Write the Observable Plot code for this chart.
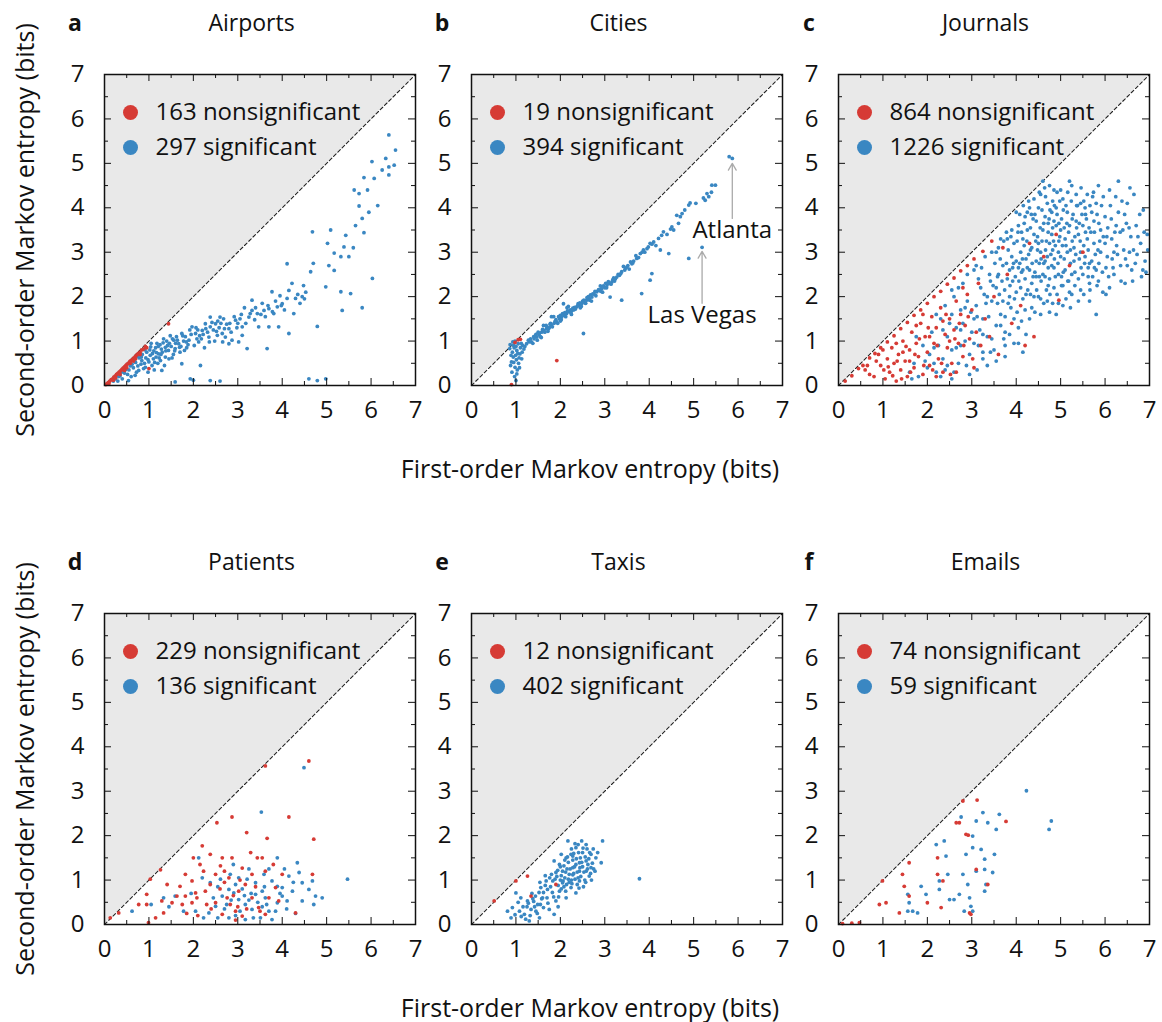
<!DOCTYPE html>
<html>
<head>
<meta charset="utf-8">
<script src="https://cdn.jsdelivr.net/npm/d3@7"></script>
<script src="https://cdn.jsdelivr.net/npm/@observablehq/plot@0.6"></script>
<style>
  html, body { margin: 0; padding: 0; background: #fff; }
  #root { position: relative; width: 1162px; height: 1022px; overflow: hidden; background: #fff;
    font-family: 'Open Sans', 'Liberation Sans', Arial, sans-serif; color: #111; }
  .abs { position: absolute; line-height: 1; }
  .ttl { font-size: 23px; transform: translate(-50%, -50%); white-space: nowrap; }
  .let { font-size: 23px; font-weight: bold; transform: translate(-50%, -50%); }
  .xt { font-size: 25px; transform: translate(-50%, -50%); white-space: nowrap; }
  .yt { font-size: 25px; transform: translate(-50%, -50%) rotate(-90deg); white-space: nowrap; }
</style>
</head>
<body>
<div id="root"></div>
<script>
// ---------- data ----------
const panelLetters = ["a", "b", "c", "d", "e", "f"];
const panelTitles = ["Airports", "Cities", "Journals", "Patients", "Taxis", "Emails"];
const nonsigCounts = [163, 19, 864, 229, 12, 74];
const sigCounts = [297, 394, 1226, 136, 402, 59];
const tickValues = [0, 1, 2, 3, 4, 5, 6, 7];
const minorTickValues = [0.5, 1.5, 2.5, 3.5, 4.5, 5.5, 6.5];
const cityAnnotations = [
  {label: "Atlanta", x: 5.87, y: 5.11, from: 3.76, to: 5.0, textY: 3.49},
  {label: "Las Vegas", x: 5.19, y: 3.11, from: 1.85, to: 3.02, textY: 1.58}
];

const airportsSig = [
[6.40,5.64],[6.33,5.11],[6.40,4.92],[6.52,4.96],[6.40,4.74],[6.02,5.04],[5.84,4.68],[5.92,4.40],[6.07,4.66],[5.62,4.40],[5.73,4.32],[5.73,4.04],[5.80,3.76],[5.65,3.60],[5.84,3.44],[5.43,3.38],[5.39,3.12],[5.09,3.50],[5.02,3.20],[5.17,2.98],[5.32,2.90],[5.50,2.90],[5.17,2.59],[4.68,3.46],[4.11,2.74],[4.64,2.56],[6.03,2.41],[4.98,2.22],[5.32,2.11],[5.54,2.07],[5.35,1.69],[5.80,1.75],[4.79,1.33],
[4.53,2.10],[4.45,2.00],[4.30,1.96],[4.15,2.14],[4.00,1.84],[3.89,1.77],[3.81,1.62],[3.70,1.73],[3.59,1.69],[3.44,1.62],[3.32,1.69],[3.25,1.54],[3.32,1.92],[3.77,2.11],[4.11,1.96],[4.26,1.62],[3.92,1.32],[4.15,1.17],[3.70,1.32],[3.47,1.32],[3.21,0.83],[3.66,0.83],[3.10,1.32],[2.95,1.47],[2.80,1.28],[2.68,1.50],[2.60,1.54],[2.50,1.39],[2.38,1.32],[2.27,1.39],[2.20,1.24],[2.05,1.17],[1.97,1.32],[1.90,1.02],[1.74,1.17],[1.67,0.94],[1.56,1.02],[1.44,0.79],[1.37,0.64],[1.26,0.56],[1.22,0.71],[1.10,0.60],[1.07,0.45],[1.00,0.53],[0.92,0.41],[0.84,0.56],[0.77,0.34],[0.69,0.23],[1.37,0.86],[1.59,0.83],[1.80,0.79],[2.12,0.98],[2.35,1.09],[2.54,1.13],[2.72,1.09],[2.87,1.02],[3.02,0.98],[2.38,1.54],[2.65,1.17],[2.80,0.94],[3.10,1.13],[2.16,0.45],[1.74,0.49],[1.29,0.34],[1.93,0.15],[1.59,0.08],[2.38,0.11],[2.00,0.12],[4.60,0.15],[4.79,0.11],[4.98,0.15],[0.54,0.11],
[0.55,0.35],[0.62,0.48],[0.70,0.52],[0.78,0.62],[0.85,0.70],[0.90,0.50],[0.95,0.75],[1.02,0.80],[1.08,0.72],[1.15,0.85],[1.20,0.50],[1.25,0.92],[1.30,0.75],[1.35,0.45],[1.40,1.00],[1.45,0.60],[1.50,0.88],[1.55,0.70],[1.62,1.10],[1.70,0.75],[1.78,1.00],[1.85,0.85],[1.95,1.15],[2.02,0.90],[2.10,1.25],[2.18,1.05],[2.25,0.85],[2.32,1.20],[2.42,1.42],[2.48,1.00],[2.58,1.30],[2.66,0.98],[2.75,1.38],[2.85,1.20],[2.92,1.55],[3.00,1.40],[3.08,1.60],[3.15,1.75],[3.38,1.48],[3.55,1.85],[3.62,1.55],[3.85,1.90],[3.95,2.02],[4.05,1.70],[4.22,2.30],[4.40,1.85],[4.48,2.25],[0.45,0.28],[0.40,0.15],[0.60,0.20],[0.30,0.10],[0.35,0.22],[0.98,0.30],[1.12,0.35],[1.18,0.95],[0.88,0.38],[0.75,0.44],[1.05,0.95],[1.48,1.12],[1.33,1.05],[2.60,0.10],[4.70,2.75],[5.05,2.70],[5.60,3.10],[6.15,4.05],[6.55,5.30],[6.25,4.85],[5.95,3.90],
[0.65,0.40],[0.72,0.30],[0.82,0.48],[0.93,0.62],[1.03,0.68],[1.13,0.52],[1.23,0.62],[1.28,0.82],[1.42,0.90],[1.52,0.62],[1.60,0.95],[1.72,0.88],[1.82,1.10],[1.88,0.92],[2.08,1.05],[2.22,1.15],[2.45,1.25],[2.55,1.45],[1.17,0.74],[0.98,0.58],
[0.20,0.10],[0.25,0.15],[0.32,0.20],[0.38,0.30],[0.48,0.36],[0.52,0.25],[0.58,0.44],[0.68,0.58],[0.74,0.66],[0.83,0.64],[0.91,0.80],[1.04,0.87],[1.11,0.78],[1.16,0.64],[1.21,0.88],[1.27,0.70],[1.32,0.96],[1.38,0.78],[1.46,0.95],[1.53,1.05],[1.58,0.78],[1.64,1.02],[1.69,0.86],[1.76,1.12],[1.84,0.98],[1.92,1.25],[2.06,1.30],[2.14,1.12],[2.28,1.28],[2.36,0.98],[2.52,1.22],[2.62,1.40],[2.70,1.28],[2.82,1.40],[2.98,1.30],[3.05,1.50],[3.18,1.40],[3.28,1.62],[3.40,1.75],[3.52,1.60],[3.68,1.80],[3.78,1.66],[3.98,1.80],[4.35,2.05],[4.50,1.95]
];
const airportsNon = [
[0.03,0.02],[0.06,0.05],[0.09,0.07],[0.12,0.10],[0.15,0.13],[0.18,0.15],[0.21,0.19],[0.24,0.21],[0.27,0.25],[0.30,0.27],[0.33,0.30],[0.36,0.33],[0.39,0.36],[0.42,0.39],[0.45,0.42],[0.48,0.45],[0.51,0.48],[0.54,0.50],[0.57,0.54],[0.60,0.56],[0.63,0.59],[0.66,0.62],[0.70,0.66],[0.73,0.69],[0.76,0.72],[0.80,0.75],[0.84,0.80],[0.88,0.82],[0.92,0.88],[0.20,0.12],[0.35,0.25],[0.50,0.40],[0.65,0.55],[0.10,0.04],[0.25,0.17],[0.45,0.34],[0.58,0.50],[0.70,0.60],[0.80,0.70],[0.95,0.85],[1.44,1.39],[1.00,0.38]
];

const citiesSig = [
[5.87,5.11],[5.80,5.15],[5.41,4.51],[5.49,4.51],[5.30,4.32],[5.34,4.25],[5.26,4.17],[5.22,4.22],[4.92,4.11],[4.89,4.06],[4.74,3.87],[4.62,3.83],[4.66,3.65],[4.51,3.57],[4.32,3.46],[4.21,3.31],[4.10,3.23],[4.02,3.20],[3.95,3.08],[3.87,3.05],[3.80,2.97],[3.72,2.86],[3.61,2.74],[3.50,2.67],[3.38,2.56],[3.27,2.44],[3.16,2.33],[3.05,2.26],[2.93,2.18],[2.82,2.11],[2.71,1.99],[2.59,1.92],[2.48,1.84],[2.37,1.77],[2.26,1.69],[2.14,1.62],[2.03,1.54],[1.92,1.43],[1.80,1.35],[1.69,1.28],[1.58,1.20],[1.47,1.09],[1.35,0.98],[1.24,0.94],
[4.25,3.05],[4.44,2.97],[4.89,2.86],[5.19,3.11],[3.83,2.07],[4.02,2.37],[4.06,2.52],[3.38,1.92],[3.12,1.99],[2.52,1.17],[2.07,1.84],[2.15,1.75],[1.80,1.55],
[3.65,2.80],[3.55,2.62],[3.45,2.60],[3.33,2.48],[3.20,2.42],[3.10,2.30],[3.00,2.20],[2.88,2.14],[2.76,2.06],[2.65,1.96],[2.55,1.86],[2.42,1.80],[2.30,1.70],[2.20,1.66],[2.08,1.58],[1.98,1.50],[1.86,1.40],[1.75,1.30],[1.63,1.24],[1.52,1.14],[1.41,1.05],[1.30,0.98],[1.20,0.88],[3.58,2.78],[3.42,2.68],[3.30,2.50],[3.18,2.38],[3.02,2.30],[2.90,2.24],[2.78,2.12],[2.68,2.04],[2.60,1.98],[2.50,1.90],[2.40,1.84],[2.32,1.76],[2.22,1.70],[2.10,1.64],[2.00,1.58],[1.90,1.48],[1.78,1.40],[1.70,1.32],[1.60,1.26],[1.50,1.20],[1.40,1.10],[1.28,1.02],[3.70,2.92],[3.90,3.00],[4.15,3.15],[4.40,3.40],[4.55,3.50],[4.80,3.95],[5.05,4.10],[5.40,4.35],[2.45,1.75],[2.70,1.90],[2.95,2.10],[3.22,2.35],[2.25,1.60],[2.00,1.45],[1.72,1.22],[1.55,1.10],[1.45,1.15],[1.62,1.35],[1.85,1.55],[2.18,1.78],
[1.33,1.05],[1.38,0.95],[1.44,1.12],[1.48,1.02],[1.53,1.18],[1.57,1.08],[1.65,1.20],[1.68,1.35],[1.73,1.27],[1.77,1.38],[1.82,1.32],[1.88,1.44],[1.94,1.40],[1.96,1.55],[2.02,1.48],[2.05,1.62],[2.12,1.55],[2.16,1.68],[2.24,1.64],[2.28,1.74],[2.34,1.72],[2.39,1.80],[2.44,1.86],[2.47,1.78],[2.53,1.92],[2.57,1.85],[2.63,2.00],[2.66,1.92],[2.73,2.06],[2.80,2.02],[2.86,2.16],[2.91,2.12],[2.97,2.24],[3.04,2.20],[3.08,2.34],[3.14,2.28],[3.24,2.40],[3.36,2.52],[3.47,2.64],[3.52,2.70],[3.63,2.76],[3.76,2.88],[3.84,3.00],[3.98,3.12],[4.06,3.18],[4.28,3.38],[4.48,3.52],[4.70,3.80],
[1.02,0.79],[0.94,0.64],[0.98,0.41],[1.02,0.26],[0.90,0.53],[1.09,0.71],[1.05,0.94],[0.86,0.83],[1.13,0.60],[1.00,0.11],[1.03,0.35],[0.95,0.90],[0.92,0.75],[0.99,0.68],[1.06,0.50],[0.88,0.45],[0.97,0.20],[1.10,0.85],[1.15,0.90],[0.93,0.98],[1.01,0.58],[0.96,0.85],[1.08,0.40],[0.91,0.30],[1.04,0.72],[0.98,1.00],[1.18,0.82],[1.12,0.95],[0.89,0.68],[1.07,0.62],[0.95,0.52],[1.00,0.88],[0.87,0.92],[1.14,0.75]
];
const citiesNon = [[1.05,1.03],[1.92,0.56],[0.90,0.02],[0.98,0.97],[1.10,1.04]];

const journalsSig = [
[1.60,0.30],[1.70,0.50],[1.80,0.20],[1.90,0.90],[2.00,0.40],[1.75,1.10],[2.05,0.70],[1.65,0.15],
[2.10,1.20],[2.20,0.30],[2.25,0.90],[2.30,1.50],[2.35,0.60],[2.40,1.80],[2.45,1.10],[2.15,0.50],[2.30,0.20],[2.40,0.35],[2.50,1.40],[2.20,1.60],
[2.55,0.80],[2.60,2.00],[2.65,1.30],[2.70,0.50],[2.75,1.70],[2.80,2.30],[2.85,1.00],[2.90,1.90],[2.95,0.70],[2.60,0.30],[2.70,2.20],[2.80,1.40],[2.90,2.50],[3.00,1.20],[2.55,1.60],[2.75,0.90],
[3.05,2.60],[3.10,1.80],[3.15,0.90],[3.20,2.20],[3.25,1.50],[3.30,2.90],[3.35,1.10],[3.40,2.50],[3.45,1.90],[3.50,0.80],[3.05,1.50],[3.15,2.40],[3.25,0.60],[3.35,2.00],[3.45,3.00],[3.10,2.70],
[3.55,2.20],[3.60,3.10],[3.65,1.60],[3.70,2.70],[3.75,1.20],[3.80,3.30],[3.85,2.00],[3.90,2.90],[3.95,1.50],[3.55,3.00],[3.60,2.50],[3.70,1.90],[3.80,2.40],[3.90,3.50],[3.65,3.30],[3.75,0.90],[3.85,2.60],[3.95,3.20],
[4.00,2.80],[4.05,3.60],[4.10,2.20],[4.15,3.30],[4.20,1.70],[4.25,3.90],[4.30,2.60],[4.35,3.10],[4.40,2.00],[4.45,3.70],[4.00,3.90],[4.10,3.00],[4.20,2.40],[4.30,4.00],[4.40,3.40],[4.05,1.30],[4.15,2.60],[4.25,3.50],[4.35,2.30],[4.45,2.80],[4.00,2.10],[4.20,3.80],[4.30,1.50],[4.40,4.20],
[4.50,3.20],[4.55,4.30],[4.60,2.50],[4.65,3.80],[4.70,2.90],[4.75,4.50],[4.80,3.40],[4.85,2.20],[4.90,4.00],[4.95,3.00],[4.50,2.00],[4.60,3.50],[4.70,4.10],[4.80,2.70],[4.90,3.60],[4.55,1.60],[4.65,2.80],[4.75,3.20],[4.85,4.40],[4.95,2.50],[4.50,4.00],[4.60,4.60],[4.70,1.90],[4.80,3.90],[4.90,1.60],[4.55,3.00],[4.75,2.40],[4.85,3.70],
[5.00,3.50],[5.05,4.20],[5.10,2.60],[5.15,3.90],[5.20,2.10],[5.25,4.50],[5.30,3.10],[5.35,3.70],[5.40,2.40],[5.45,4.10],[5.00,2.90],[5.10,3.30],[5.20,4.60],[5.30,2.80],[5.40,3.40],[5.05,1.80],[5.15,3.00],[5.25,2.50],[5.35,4.30],[5.45,3.00],[5.00,4.40],[5.20,3.60],[5.40,1.90],
[5.50,3.60],[5.55,2.90],[5.60,4.30],[5.65,2.30],[5.70,3.90],[5.75,3.20],[5.80,2.60],[5.85,4.50],[5.90,3.50],[5.95,2.10],[5.50,2.50],[5.60,3.30],[5.70,2.80],[5.80,4.10],[5.90,3.00],[5.55,4.00],[5.65,1.90],[5.75,3.70],[5.80,1.60],
[6.00,3.80],[6.05,2.90],[6.10,4.40],[6.15,3.30],[6.20,2.50],[6.30,3.90],[6.35,2.70],[6.40,3.50],[6.50,4.10],[6.55,3.00],[6.60,2.60],[6.70,3.60],[6.80,3.20],[6.90,2.80],[6.95,3.40],[6.10,2.20],[6.25,3.60],[6.45,2.30],[6.65,4.30],[6.85,2.60],[6.00,3.20],[6.30,4.60],[6.50,2.70],[6.20,3.00],
[4.12,3.45],[4.28,2.95],[4.38,3.75],[4.48,3.35],[4.58,3.95],[4.62,2.75],[4.68,3.25],[4.72,3.65],[4.78,2.95],[4.82,4.15],[4.88,3.15],[4.92,3.85],[4.98,3.35],[5.02,3.75],[5.08,2.85],[5.12,4.05],[5.18,3.45],[5.22,2.75],[5.28,3.85],[5.32,3.35],[5.38,4.05],[5.42,2.85],[5.48,3.85],[5.52,3.15],[5.58,3.75],[5.62,2.65],[5.68,3.45],[5.72,4.25],[5.78,2.95],[5.88,3.25],
[3.98,2.45],[4.08,2.75],[4.18,3.15],[4.22,2.05],[4.32,3.55],[4.42,2.55],[4.52,2.75],[4.58,3.25],[4.68,2.15],[4.72,3.45],[4.82,3.05],[4.88,2.45],[4.98,4.15],[5.08,3.55],[5.18,2.35],[3.68,2.35],[3.78,2.75],[3.88,1.75],[3.48,2.25],[3.38,1.55],[3.28,2.05],[3.18,1.25],[3.58,1.85],[2.98,1.65],[2.88,0.45],[3.12,0.35],[3.42,0.75],[3.72,1.05],
[3.82,3.05],[3.92,2.35],[4.02,3.25],[4.08,3.85],[4.12,2.55],[4.18,3.65],[4.22,2.85],[4.28,4.15],[4.32,3.05],[4.38,2.45],[4.42,3.85],[4.48,3.05],[4.52,4.35],[4.56,2.35],[4.62,3.65],[4.66,4.25],[4.72,2.65],[4.76,3.95],[4.82,3.55],[4.86,2.85],[4.92,4.35],[4.96,3.25],[5.02,2.45],[5.06,3.95],[5.12,3.15],[5.16,4.35],[5.22,3.05],[5.26,3.75],[5.32,2.55],[5.36,4.05],[5.42,3.65],[5.46,2.65],[5.52,4.15],[5.56,3.45],[5.62,3.05],[5.66,4.05],[5.72,2.45],[5.76,3.45],[5.82,3.85],[5.86,2.75],[5.92,4.05],[5.96,3.35],[6.02,2.65],[6.06,3.55],[6.12,4.05],[6.16,2.85],[6.22,3.45],[6.28,2.95],[6.38,4.15],[6.42,3.05],[6.48,3.65],[6.58,3.35],[6.62,2.35],[6.72,2.95],[6.78,3.85],[6.88,3.45],[6.92,2.55],
[3.12,1.55],[3.22,2.65],[3.32,1.85],[3.42,2.35],[3.52,2.75],[3.62,2.05],[3.72,3.25],[3.82,1.85],[3.92,2.65],[4.02,1.65],[4.12,1.45],[4.22,1.15],[4.32,2.05],[4.42,1.65],[4.52,2.45],[4.62,1.85],[4.72,2.25],[4.82,1.85],[4.92,2.05],[5.02,2.25],[5.12,1.95],[5.22,1.75],[5.32,2.25],[5.52,2.05],[5.62,2.45],[5.82,2.25],[6.02,2.05],[3.05,0.95],[3.25,1.15],[2.85,1.75],[2.65,0.85],[2.45,0.45],[2.35,1.25],[2.15,0.85],[1.95,0.55],[2.55,2.15],[2.75,1.25],[3.35,0.45],[3.55,1.35],[3.75,1.55],[3.95,0.95],[4.15,0.75],
[3.58,2.45],[3.64,2.85],[3.74,2.15],[3.78,3.45],[3.86,2.25],[3.88,3.35],[3.94,2.75],[3.96,1.95],[4.04,3.45],[4.06,2.35],[4.14,2.85],[4.16,4.05],[4.24,3.25],[4.26,2.15],[4.34,3.85],[4.36,2.75],[4.44,3.25],[4.46,2.15],[4.54,3.55],[4.56,2.85],[4.64,4.45],[4.66,3.05],[4.74,3.75],[4.76,2.05],[4.84,3.25],[4.86,4.05],[4.94,2.75],[4.96,3.65],[5.04,3.15],[5.06,2.55],[5.14,3.65],[5.16,2.35],[5.24,4.15],[5.26,3.25],[5.34,2.95],[5.36,3.55],[5.44,3.25],[5.46,4.45],[5.54,2.75],[5.56,3.85],[5.64,3.55],[5.66,2.15],[5.74,4.35],[5.76,2.65],[5.84,3.05],[5.86,3.65],[5.94,2.55],[5.96,4.25],[6.04,3.35],[6.08,2.45],[6.14,3.75],[6.18,2.65],[6.24,4.25],[6.26,3.15],[6.34,3.45],[6.36,2.35],[6.44,3.85],[6.46,2.85],[6.54,3.55],[6.56,4.45],[6.64,3.05],[6.68,2.75],[6.74,3.35],[6.82,2.45],[6.86,3.95],[6.96,3.05],
[4.05,2.65],[4.25,2.65],[4.45,2.45],[4.65,2.45],[4.85,2.65],[5.05,2.25],[5.25,2.05],[5.45,2.15],[5.65,2.75],[5.85,2.35],[4.15,1.95],[4.35,1.75],[4.55,1.95],[4.75,1.65],[4.95,1.85],[3.65,1.35],[3.85,1.15],[4.05,0.95],[3.45,1.05],[3.25,0.75],[2.95,0.25],[2.55,0.15],[3.55,0.55],[3.75,0.65]
];
const journalsNon = [
[0.15,0.10],[0.30,0.22],[0.45,0.38],[0.55,0.45],[0.70,0.62],[0.82,0.72],[0.95,0.85],[1.10,0.98],[1.25,1.12],[1.40,1.28],[1.55,1.42],[1.70,1.58],[1.85,1.70],[2.00,1.85],[2.15,2.00],[2.30,2.12],[2.45,2.28],[2.60,2.42],[2.75,2.58],[2.90,2.70],[3.05,2.85],[3.25,3.02],[3.45,3.25],[0.60,0.35],[0.90,0.70],
[0.80,0.20],[0.95,0.45],[1.05,0.15],[1.10,0.60],[1.15,0.30],[1.20,0.85],[1.25,0.50],[1.30,0.10],[1.35,0.70],[1.40,0.35],[1.45,1.00],[1.50,0.55],[1.55,0.20],[1.60,0.80],[1.65,1.20],[1.70,0.40],[1.75,0.95],[1.80,0.65],[1.85,1.40],[1.90,0.25],[1.95,1.10],[2.00,0.75],[2.05,0.45],[2.10,1.55],[2.15,0.95],[2.20,1.30],[2.25,0.60],[2.30,1.75],[2.35,0.30],[2.40,1.15],[2.45,0.85],[2.50,1.50],[2.55,0.50],[2.60,1.25],[2.65,1.90],[2.70,0.95],[2.75,1.60],[2.80,0.65],[2.85,1.35],[2.90,2.05],[2.95,1.05],[3.00,1.70],[3.05,0.40],[3.10,1.20],[3.15,2.30],[3.20,0.90],[3.30,1.50],[3.40,1.10],[3.50,2.00],[3.60,0.70],[1.00,0.80],[1.30,0.95],[1.60,0.55],[1.90,1.60],[2.20,0.20],[2.50,1.00],[2.80,2.20],[1.45,0.75],[1.75,1.35],[2.05,1.10],[2.35,1.45],[2.65,0.30],
[3.80,2.50],[4.10,1.80],[4.30,3.20],[4.62,2.90],[4.90,3.40],[5.20,2.70],[3.90,1.40],[4.40,1.10],[5.50,3.00],[3.70,3.10],[4.96,1.92],[4.20,0.90],
[1.12,0.42],[1.22,0.22],[1.32,0.55],[1.42,0.15],[1.52,0.88],[1.62,0.30],[1.72,0.70],[1.82,1.05],[1.92,0.45],[2.02,1.30],[2.12,0.35],[2.22,0.90],[2.32,0.50],[2.42,1.60],[2.52,0.25],[2.62,1.05],[2.72,1.40],[2.82,0.90],[2.92,1.55],[3.02,0.60],[0.70,0.25],[0.85,0.55],[0.65,0.45],[1.02,0.35]
];

const patientsSig = [
[4.49,3.53],[3.53,2.53],[3.89,1.50],[4.34,1.39],[5.47,1.02],[2.12,1.50],[2.20,1.05],[2.38,0.94],[2.61,1.02],[2.83,1.13],[3.02,1.05],[3.21,1.02],[3.40,0.94],[3.59,1.13],[3.77,0.98],[3.89,0.86],[4.00,0.83],[4.15,1.09],[4.38,1.17],[4.45,0.94],[4.60,0.79],[4.75,0.64],[4.90,0.60],[4.23,0.75],[4.00,0.64],[3.89,0.49],[3.70,0.30],[3.51,0.15],[3.32,0.34],[3.17,0.45],[3.02,0.56],[2.91,0.71],[2.80,0.79],[2.65,0.64],[2.50,0.41],[2.35,0.26],[2.23,0.15],[2.05,0.30],[1.78,0.30],[1.59,0.64],[1.33,0.60],[0.62,0.30],[3.17,0.11],[3.77,0.11],[2.80,0.15],[3.40,0.68],[3.62,0.60],[4.11,0.53],[4.45,0.53],[4.68,0.98],[4.71,0.45],
[2.95,0.90],[3.10,0.80],[3.30,0.70],[3.45,0.50],[3.60,0.85],[2.70,0.35],[2.55,0.85],[3.85,0.30],[4.25,0.95],[2.45,0.60],[1.95,0.70],[1.45,0.40],[3.70,1.25],[4.05,1.25],[3.25,1.25],[2.90,1.35],[3.55,0.40],[4.30,0.25],[1.05,0.45],
[2.55,0.15],[2.75,0.45],[2.95,0.20],[3.05,0.30],[3.25,0.55],[3.35,0.15],[3.55,0.75],[3.65,0.45],[3.95,0.70],[4.10,0.35],[2.85,0.55],[3.15,0.65]
];
const patientsNon = [
[4.60,3.68],[3.62,3.57],[2.87,2.42],[3.20,2.07],[4.15,2.42],[2.53,2.29],[3.66,1.94],[4.71,1.92],[2.20,1.77],[2.00,1.50],[2.38,1.58],[2.61,1.32],[2.65,1.50],[2.87,1.50],[3.10,1.27],[3.29,1.62],[3.44,1.50],[3.55,1.50],[1.82,1.13],[1.97,0.98],[1.41,0.90],[1.26,1.23],[1.03,1.02],[0.95,0.68],[0.77,0.45],[0.95,0.45],[1.29,0.53],[1.52,0.49],[1.63,0.64],[1.82,0.64],[1.97,0.49],[2.08,0.60],[2.27,0.75],[2.38,0.90],[2.50,1.13],[2.76,0.60],[2.83,0.45],[2.95,0.30],[3.02,0.75],[3.17,0.90],[3.32,0.60],[3.47,0.38],[3.62,0.23],[3.70,0.60],[3.85,0.83],[4.00,1.13],[4.30,0.26],[4.68,1.13],[2.80,1.05],[2.50,0.49],[2.65,0.23],[3.10,0.19],[0.99,0.04],[0.32,0.26],[0.13,0.15],[1.33,0.26],[1.70,0.86],[2.23,1.20],[2.05,0.71],[3.92,0.53],[3.62,1.20],[3.32,1.13],
[2.70,0.95],[2.90,0.65],[3.00,0.40],[2.40,0.35],[1.15,0.15],[1.85,0.25],[3.80,1.35],[2.15,1.35],
[2.60,0.80],[2.70,1.20],[3.05,1.00],[3.40,0.85],[3.50,0.30],[2.30,0.45],[2.10,0.20],[1.75,0.45],[3.20,0.35],[2.95,0.10]
];

const taxisSig = [
[2.95,1.88],[2.92,1.39],[3.78,1.03],[2.17,1.88],[2.35,1.73],[2.50,1.62],[2.58,1.43],[2.69,1.28],[2.65,1.09],[2.43,1.20],[2.28,1.28],[2.13,1.50],[1.98,1.35],[1.90,1.17],[1.83,0.98],[1.71,0.79],[1.60,0.60],[1.49,0.45],[1.34,0.34],[1.19,0.23],[1.08,0.30],[0.89,0.15],[0.81,0.30],[1.00,0.71],[1.11,0.60],[1.26,0.53],[1.44,0.64],[1.56,0.83],[1.68,0.98],[1.80,1.13],[2.05,0.94],[2.24,0.83],[2.35,0.71],[2.13,0.60],[1.90,0.53],[1.75,0.34],[1.53,0.15],[1.30,0.08],[1.86,0.23],[1.98,0.75],[2.43,0.98],[2.58,1.20],[2.28,1.54],[2.43,1.39],[2.20,1.13],[2.02,1.58],[1.86,1.43],[2.69,1.58],[2.80,1.50],
[2.10,1.05],[2.15,1.25],[2.25,1.00],[2.30,1.15],[2.35,1.35],[2.05,1.20],[2.00,1.00],[2.20,0.95],[2.40,1.05],[2.50,1.30],[2.45,1.50],[2.55,1.00],[2.30,1.60],[2.18,1.40],[2.08,0.85],[1.95,0.88],[1.92,1.08],[2.12,0.75],[2.38,0.90],[2.25,1.70],[2.40,1.80],[2.60,1.70],[2.52,0.85],[2.62,1.35],[1.78,0.85],[1.70,0.60],[1.62,0.72],[1.55,0.45],[1.85,0.62],[1.95,0.40],[1.45,0.30],[1.40,0.52],[1.25,0.40],[2.70,1.00],[2.75,1.25],[2.10,1.45],[2.28,1.45],[2.00,1.30],
[2.02,1.10],[2.06,0.98],[2.08,1.32],[2.12,1.18],[2.14,0.90],[2.16,1.52],[2.18,1.02],[2.22,1.25],[2.24,1.58],[2.26,0.92],[2.28,1.12],[2.32,1.30],[2.33,1.02],[2.36,1.48],[2.38,1.18],[2.41,1.62],[2.42,0.82],[2.44,1.28],[2.46,1.08],[2.48,1.40],[2.51,1.72],[2.53,1.18],[2.56,1.52],[2.57,0.95],[2.61,1.25],[2.64,1.48],[2.66,1.62],[2.68,1.15],[2.72,1.38],[2.74,1.70],[2.78,1.20],[2.84,1.62],[2.48,1.88],[2.58,1.80],[2.33,1.82],[1.94,1.22],[1.88,1.02],[1.96,0.62],[2.02,0.80],[1.82,0.72],[1.76,1.05],[1.72,0.48],[1.66,0.88],[1.62,0.38],[1.58,0.58],[1.52,0.72],[1.48,0.25],[1.42,0.40],[1.38,0.58],[1.32,0.20],[1.28,0.48],[1.22,0.12],[1.16,0.40],[1.12,0.18],[1.05,0.50],[0.98,0.22],[0.92,0.38],[1.36,0.70],[1.66,1.10],[1.54,0.95]
];
const taxisNon = [[0.51,0.53],[1.00,0.98],[1.26,1.09],[1.34,0.64],[1.90,0.90]];

const emailsSig = [
[4.23,3.01],[4.79,2.33],[4.74,2.14],[3.62,2.48],[3.36,2.29],[3.55,2.14],[3.25,2.52],[3.10,2.33],[3.02,1.99],[2.76,2.42],[2.20,1.80],[2.38,1.88],[2.42,1.54],[2.87,1.58],[3.02,1.73],[3.21,1.69],[3.29,1.47],[3.51,1.58],[3.47,1.17],[3.29,1.24],[3.10,1.20],[2.80,1.13],[2.91,0.90],[2.72,0.68],[2.95,0.60],[2.98,0.41],[2.83,0.30],[2.50,0.56],[2.27,0.98],[2.27,0.79],[2.46,1.13],[2.60,0.56],[1.86,0.86],[1.97,0.68],[1.56,0.68],[1.59,0.49],[1.56,0.30],[1.67,0.30],[1.78,0.26],[3.29,0.75],[3.32,0.90],[3.02,0.30]
];
const emailsNon = [
[2.80,2.78],[3.12,2.80],[2.65,2.29],[2.72,2.29],[2.87,2.03],[2.92,2.01],[3.77,2.32],[1.59,1.39],[1.44,1.13],[2.23,1.50],[2.23,1.13],[1.48,0.86],[0.99,0.98],[1.59,0.64],[0.92,0.45],[1.07,0.49],[2.00,0.49],[2.31,0.38],[3.10,1.24],[3.36,0.90],[1.37,0.26],[2.98,0.23],[2.95,0.26],[2.35,0.98],[0.47,0.04],[0.09,0.02],[0.30,0.03]
];

const sigSeries = [airportsSig, citiesSig, journalsSig, patientsSig, taxisSig, emailsSig];
const nonSeries = [airportsNon, citiesNon, journalsNon, patientsNon, taxisNon, emailsNon];

// ---------- styles ----------
const RED = "#d63b35";
const BLUE = "#3a87c2";
const FONT = "'Open Sans','Liberation Sans',Arial,sans-serif";
const S = 311;           // frame size
const ML = 45, MT = 10, MR = 12, MB = 45;
const frameLefts = [104, 471, 838];
const frameTops = [74, 613];

const root = document.getElementById("root");

function makePanel(i) {
  const marks = [
    Plot.areaY([0, 7], {x: d => d, y1: d => d, y2: 7, fill: "#e9e9e9"}),
    Plot.line([0, 7], {x: d => d, y: d => d, stroke: "#222", strokeWidth: 1.1, strokeDasharray: "3.5,2.5"}),
    Plot.dot(sigSeries[i], {x: d => d[0], y: d => d[1], r: 1.9, fill: BLUE, stroke: "none"}),
    Plot.dot(nonSeries[i], {x: d => d[0], y: d => d[1], r: 1.9, fill: RED, stroke: "none"}),
    // inward ticks on all four sides
    Plot.tickX(tickValues, {x: d => d, insetTop: S - 7, stroke: "#111"}),
    Plot.tickX(tickValues, {x: d => d, insetBottom: S - 7, stroke: "#111"}),
    Plot.tickX(minorTickValues, {x: d => d, insetTop: S - 4, stroke: "#111"}),
    Plot.tickX(minorTickValues, {x: d => d, insetBottom: S - 4, stroke: "#111"}),
    Plot.tickY(tickValues, {y: d => d, insetRight: S - 7, stroke: "#111"}),
    Plot.tickY(tickValues, {y: d => d, insetLeft: S - 7, stroke: "#111"}),
    Plot.tickY(minorTickValues, {y: d => d, insetRight: S - 4, stroke: "#111"}),
    Plot.tickY(minorTickValues, {y: d => d, insetLeft: S - 4, stroke: "#111"}),
    Plot.axisX({ticks: tickValues, tickFormat: d3.format("d"), tickSize: 0, tickPadding: 15, label: null, fontSize: 24}),
    Plot.axisY({ticks: tickValues, tickFormat: d3.format("d"), tickSize: 0, tickPadding: 20, label: null, fontSize: 24}),
    Plot.frame({stroke: "#111", strokeWidth: 1.5}),
    // legend
    Plot.dot([0], {frameAnchor: "top-left", dx: 26, dy: 38, r: 7.5, fill: RED}),
    Plot.dot([0], {frameAnchor: "top-left", dx: 26, dy: 73, r: 7.5, fill: BLUE}),
    Plot.text([`${nonsigCounts[i]} nonsignificant`], {text: d => d, frameAnchor: "top-left", dx: 51, dy: 38, textAnchor: "start", lineAnchor: "middle", fontSize: 24, fill: "#111"}),
    Plot.text([`${sigCounts[i]} significant`], {text: d => d, frameAnchor: "top-left", dx: 51, dy: 73, textAnchor: "start", lineAnchor: "middle", fontSize: 24, fill: "#111"})
  ];
  if (i === 1) {
    marks.push(
      Plot.arrow(cityAnnotations, {x1: "x", x2: "x", y1: "from", y2: "to", stroke: "#aaa", strokeWidth: 1.3, headLength: 9}),
      Plot.text(cityAnnotations, {x: "x", y: "textY", text: "label", fontSize: 24, lineAnchor: "middle", fill: "#111"})
    );
  }
  return Plot.plot({
    width: ML + S + MR, height: MT + S + MB,
    marginLeft: ML, marginTop: MT, marginRight: MR, marginBottom: MB,
    x: {domain: [0, 7], nice: false},
    y: {domain: [0, 7], nice: false},
    style: {fontFamily: FONT, fontSize: "24px", color: "#111", background: "transparent", overflow: "visible"},
    marks
  });
}

for (let i = 0; i < 6; i++) {
  const col = i % 3, row = Math.floor(i / 3);
  const fl = frameLefts[col], ft = frameTops[row];
  const svg = makePanel(i);
  const wrap = document.createElement("div");
  wrap.className = "abs";
  wrap.style.left = (fl - ML) + "px";
  wrap.style.top = (ft - MT) + "px";
  wrap.appendChild(svg);
  root.appendChild(wrap);

  const t = document.createElement("div");
  t.className = "abs ttl";
  t.textContent = panelTitles[i];
  t.style.left = (fl + S / 2 - 8) + "px";
  t.style.top = (ft - 52) + "px";
  root.appendChild(t);

  const l = document.createElement("div");
  l.className = "abs let";
  l.textContent = panelLetters[i];
  l.style.left = (fl - 29) + "px";
  l.style.top = (ft - 52) + "px";
  root.appendChild(l);
}

for (let row = 0; row < 2; row++) {
  const ft = frameTops[row];
  const xt = document.createElement("div");
  xt.className = "abs xt";
  xt.textContent = "First-order Markov entropy (bits)";
  xt.style.left = "590px";
  xt.style.top = (ft + S + 83) + "px";
  root.appendChild(xt);

  const yt = document.createElement("div");
  yt.className = "abs yt";
  yt.textContent = "Second-order Markov entropy (bits)";
  yt.style.left = "24px";
  yt.style.top = (ft + S / 2) + "px";
  root.appendChild(yt);
}
</script>
</body>
</html>
